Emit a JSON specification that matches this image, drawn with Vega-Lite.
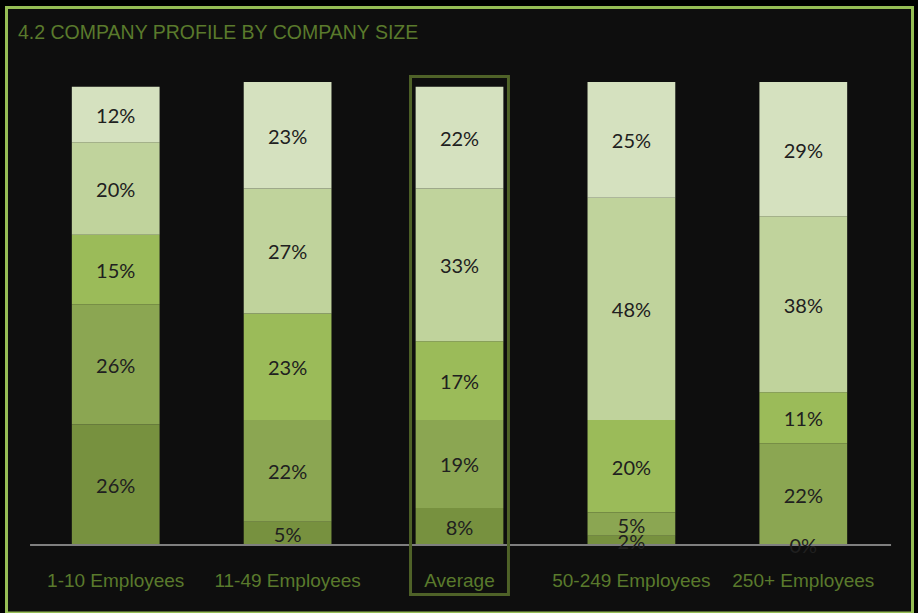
{
  "$schema": "https://vega.github.io/schema/vega-lite/v6.json",
  "width": 906,
  "height": 605.5,
  "autosize": {"type": "none"},
  "padding": {"left": 6.5, "top": 7.5, "right": 5.5, "bottom": 0},
  "background": "#000000",
  "config": {
    "view": {"fill": "#0e0e0e", "stroke": "#96bd55", "strokeWidth": 3},
    "axis": {"domain": false, "grid": false}
  },
  "title": {
    "text": "4.2 COMPANY PROFILE BY COMPANY SIZE",
    "anchor": "start",
    "frame": "group",
    "orient": "top",
    "offset": -50.5,
    "baseline": "alphabetic",
    "dx": 11.5,
    "font": "Liberation Sans",
    "fontSize": 19.5,
    "fontWeight": "normal",
    "color": "#5a7a2c"
  },
  "data": {
    "values": [
      {"size": "1-10 Employees", "seg": 1, "value": 0.26},
      {"size": "1-10 Employees", "seg": 2, "value": 0.26},
      {"size": "1-10 Employees", "seg": 3, "value": 0.15},
      {"size": "1-10 Employees", "seg": 4, "value": 0.20},
      {"size": "1-10 Employees", "seg": 5, "value": 0.12},
      {"size": "11-49 Employees", "seg": 1, "value": 0.05},
      {"size": "11-49 Employees", "seg": 2, "value": 0.22},
      {"size": "11-49 Employees", "seg": 3, "value": 0.23},
      {"size": "11-49 Employees", "seg": 4, "value": 0.27},
      {"size": "11-49 Employees", "seg": 5, "value": 0.23},
      {"size": "Average", "seg": 1, "value": 0.08},
      {"size": "Average", "seg": 2, "value": 0.19},
      {"size": "Average", "seg": 3, "value": 0.17},
      {"size": "Average", "seg": 4, "value": 0.33},
      {"size": "Average", "seg": 5, "value": 0.22},
      {"size": "50-249 Employees", "seg": 1, "value": 0.02},
      {"size": "50-249 Employees", "seg": 2, "value": 0.05},
      {"size": "50-249 Employees", "seg": 3, "value": 0.20},
      {"size": "50-249 Employees", "seg": 4, "value": 0.48},
      {"size": "50-249 Employees", "seg": 5, "value": 0.25},
      {"size": "250+ Employees", "seg": 1, "value": 0.00},
      {"size": "250+ Employees", "seg": 2, "value": 0.22},
      {"size": "250+ Employees", "seg": 3, "value": 0.11},
      {"size": "250+ Employees", "seg": 4, "value": 0.38},
      {"size": "250+ Employees", "seg": 5, "value": 0.29}
    ]
  },
  "encoding": {
    "x": {
      "field": "size",
      "type": "nominal",
      "axis": null,
      "sort": ["1-10 Employees", "11-49 Employees", "Average", "50-249 Employees", "250+ Employees"],
      "scale": {
        "type": "band",
        "domain": ["1-10 Employees", "11-49 Employees", "Average", "50-249 Employees", "250+ Employees"],
        "paddingInner": 0.4895,
        "paddingOuter": 0.38
      }
    }
  },
  "layer": [
    {
      "transform": [
        {"stack": "value", "groupby": ["size"], "sort": [{"field": "seg", "order": "ascending"}], "as": ["y0", "y1"]}
      ],
      "mark": {"type": "bar"},
      "encoding": {
        "y": {
          "field": "y0",
          "type": "quantitative",
          "axis": null,
          "scale": {"domain": [-0.1469, 1.1609], "nice": false, "zero": false}
        },
        "y2": {"field": "y1"},
        "color": {
          "field": "seg",
          "type": "ordinal",
          "legend": null,
          "scale": {"domain": [1, 2, 3, 4, 5], "range": ["#77913f", "#8ba652", "#9bbb59", "#c0d39c", "#d5e1bf"]}
        }
      }
    },
    {
      "data": {"values": [{}]},
      "mark": {"type": "rule", "color": "#7f7f7f", "strokeWidth": 2},
      "encoding": {
        "x": {"datum": "1-10 Employees", "bandPosition": -0.476},
        "x2": {"datum": "250+ Employees", "bandPosition": 1.5},
        "y": {"datum": 0}
      }
    },
    {
      "transform": [
        {"stack": "value", "groupby": ["size"], "sort": [{"field": "seg", "order": "ascending"}], "as": ["y0", "y1"]},
        {"fold": ["y0", "y1"], "as": ["edge", "pos"]},
        {"aggregate": [{"op": "mean", "field": "pos", "as": "mid"}, {"op": "max", "field": "value", "as": "value"}], "groupby": ["size", "seg"]}
      ],
      "mark": {"type": "text", "font": "Lato", "fontSize": 20, "color": "#202020", "baseline": "middle", "align": "center", "dy": 2.5},
      "encoding": {
        "y": {"field": "mid", "type": "quantitative"},
        "text": {"field": "value", "type": "quantitative", "format": ".0%"}
      }
    },
    {
      "data": {"values": [{"size": "Average"}]},
      "mark": {"type": "bar", "filled": false, "stroke": "#4f6228", "strokeWidth": 3, "width": {"band": 1.116}},
      "encoding": {
        "y": {"datum": 1.0119},
        "y2": {"datum": -0.1069}
      }
    },
    {
      "transform": [{"filter": "datum.seg == 1"}],
      "mark": {"type": "text", "font": "Liberation Sans", "fontSize": 19, "color": "#5a7a2c", "baseline": "middle", "align": "center", "dy": 1},
      "encoding": {
        "y": {"datum": -0.0756},
        "text": {"field": "size", "type": "nominal"}
      }
    }
  ]
}
